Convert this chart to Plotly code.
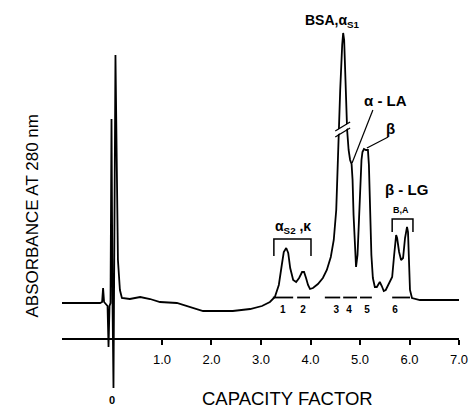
import plotly.graph_objects as go

# Chromatogram (capacity factor vs absorbance, arbitrary units, baseline = 0)
capacity_factor = [-1.02, -0.25, -0.21, -0.19, -0.17, -0.13, -0.10, -0.08, -0.06, -0.04,
                   -0.02, 0.00, 0.02, 0.06, 0.09, 0.11, 0.15, 0.19, 0.35, 0.56,
                   0.76, 0.96, 1.30, 1.57, 1.83, 2.43, 2.78, 3.02, 3.18, 3.28,
                   3.36, 3.42, 3.46, 3.51, 3.55, 3.59, 3.65, 3.71, 3.77, 3.83,
                   3.87, 3.91, 3.95, 3.99, 4.05, 4.15, 4.25, 4.33, 4.41, 4.47,
                   4.52, 4.54, 4.56, 4.60, 4.64, 4.66, 4.68, 4.71, 4.74, 4.77,
                   4.80, 4.83, 4.85, 4.87, 4.90, 4.92, 4.95, 4.98, 5.01, 5.03,
                   5.05, 5.08, 5.12, 5.16, 5.18, 5.20, 5.23, 5.26, 5.30, 5.34,
                   5.38, 5.40, 5.44, 5.48, 5.52, 5.57, 5.61, 5.65, 5.69, 5.73,
                   5.75, 5.79, 5.83, 5.87, 5.91, 5.95, 5.97, 5.99, 6.01, 6.05,
                   6.21, 6.62, 7.00]
absorbance = [0.00, 0.00, 0.01, 0.15, 0.01, -0.01, -0.03, -0.44, -0.03, 0.00,
              1.84, 0.03, -0.85, 2.48, 1.53, 0.43, 0.13, 0.05, 0.04, 0.06,
              0.04, 0.01, 0.00, -0.04, -0.08, -0.08, -0.06, -0.03, 0.01, 0.06,
              0.18, 0.38, 0.51, 0.55, 0.50, 0.35, 0.23, 0.21, 0.25, 0.31,
              0.31, 0.25, 0.18, 0.14, 0.15, 0.19, 0.25, 0.33, 0.46, 0.63,
              0.93, 1.23, 1.63, 2.13, 2.58, 2.70, 2.63, 2.13, 1.73, 1.53,
              1.43, 1.39, 1.23, 0.88, 0.48, 0.36, 0.48, 0.83, 1.23, 1.43,
              1.51, 1.54, 1.53, 1.53, 1.38, 0.93, 0.48, 0.25, 0.16, 0.16,
              0.20, 0.21, 0.17, 0.12, 0.13, 0.18, 0.21, 0.26, 0.48, 0.68,
              0.65, 0.51, 0.43, 0.45, 0.65, 0.76, 0.71, 0.40, 0.13, 0.05,
              0.03, 0.03, 0.03]

# Collected fractions
fraction_labels = ["1", "2", "3", "4", "5", "6"]
fraction_start = [3.24, 3.73, 4.29, 4.66, 5.00, 5.65]
fraction_end = [3.65, 3.99, 4.60, 4.94, 5.24, 6.01]
fraction_level = 0.055
fraction_label_x = [3.44, 3.85, 4.52, 4.78, 5.14, 5.71]
fraction_label_y = -0.07

tick_values = [1, 2, 3, 4, 5, 6, 7]
tick_labels = ["1.0", "2.0", "3.0", "4.0", "5.0", "6.0", "7.0"]

# Brackets for grouped peaks
bracket_s2_x = [3.26, 3.26, 4.01, 4.01]
bracket_s2_y = [0.47, 0.64, 0.64, 0.47]
bracket_lg_x = [5.65, 5.65, 6.07, 6.07]
bracket_lg_y = [0.71, 0.84, 0.84, 0.71]

FONT = "Liberation Sans, Arial, sans-serif"

fig = go.Figure()

fig.add_trace(go.Scatter(x=capacity_factor, y=absorbance, mode="lines",
                         line=dict(color="black", width=1.8), hoverinfo="skip"))

dash_x, dash_y = [], []
for s, e in zip(fraction_start, fraction_end):
    dash_x += [s, e, None]
    dash_y += [fraction_level, fraction_level, None]
fig.add_trace(go.Scatter(x=dash_x, y=dash_y, mode="lines",
                         line=dict(color="black", width=1.8), hoverinfo="skip"))

fig.add_trace(go.Scatter(x=fraction_label_x, y=[fraction_label_y] * len(fraction_labels),
                         mode="text", text=["<b>%s</b>" % t for t in fraction_labels],
                         textfont=dict(family=FONT, size=10, color="black"), hoverinfo="skip"))

for bx, by in [(bracket_s2_x, bracket_s2_y), (bracket_lg_x, bracket_lg_y)]:
    fig.add_trace(go.Scatter(x=bx, y=by, mode="lines",
                             line=dict(color="black", width=1.5), hoverinfo="skip"))

# Break mark on BSA peak
fig.add_shape(type="line", x0=4.50, y0=1.695, x1=4.80, y1=1.785,
              line=dict(color="white", width=4))
fig.add_shape(type="line", x0=4.50, y0=1.66, x1=4.80, y1=1.75,
              line=dict(color="black", width=1.3))
fig.add_shape(type="line", x0=4.50, y0=1.72, x1=4.80, y1=1.81,
              line=dict(color="black", width=1.3))

# Leader lines
fig.add_shape(type="line", x0=5.26, y0=1.93, x1=4.84, y1=1.40,
              line=dict(color="black", width=1.2))
fig.add_shape(type="line", x0=5.57, y0=1.66, x1=5.14, y1=1.55,
              line=dict(color="black", width=1.2))


def add_ann(text, x, y, size, xanchor="center"):
    fig.add_annotation(text=text, x=x, y=y, xanchor=xanchor, yanchor="middle",
                       showarrow=False,
                       font=dict(family=FONT, color="black", size=size))


add_ann("<b>BSA,α<sub>S1</sub></b>", 3.85, 2.82, 14, xanchor="left")
add_ann("<b>α - LA</b>", 5.04, 2.03, 15, xanchor="left")
add_ann("<b>β</b>", 5.61, 1.75, 15)
add_ann("<b>β - LG</b>", 5.46, 1.14, 15, xanchor="left")
add_ann("<b>B,A</b>", 5.83, 0.93, 9)
add_ann("<b>α<sub>S2</sub> ,κ</b>", 3.24, 0.76, 14, xanchor="left")

fig.add_annotation(text="<b>0</b>", x=0.0, xref="x", y=-0.021, yref="paper",
                   showarrow=False, yanchor="middle",
                   font=dict(family=FONT, size=11, color="black"))
fig.add_annotation(text="ABSORBANCE AT 280 nm", xref="paper", yref="paper",
                   x=-0.103, y=0.461, textangle=-90, showarrow=False,
                   font=dict(family=FONT, size=17, color="black"))
fig.add_annotation(text="CAPACITY FACTOR", xref="paper", yref="paper",
                   x=0.567, y=-0.018, showarrow=False, yanchor="middle",
                   font=dict(family=FONT, size=18.5, color="black"))

fig.update_layout(
    width=471, height=410,
    margin=dict(l=62, r=12, t=10, b=18, autoexpand=False),
    plot_bgcolor="white", paper_bgcolor="white",
    showlegend=False,
    xaxis=dict(range=[-1.02, 7.0], showgrid=False, zeroline=False,
               showline=True, linecolor="black", linewidth=1.5,
               ticks="outside", ticklen=5, tickwidth=1.5, tickcolor="black",
               tickvals=tick_values, ticktext=tick_labels,
               tickfont=dict(family=FONT, size=13, color="black"),
               ticklabelstandoff=4,
               anchor="free", position=0.1387, automargin=False),
    yaxis=dict(range=[-0.89, 2.93], visible=False, automargin=False),
)

fig.write_html("out.html", config={"displayModeBar": False},
               post_script="document.body.style.margin='0';")
